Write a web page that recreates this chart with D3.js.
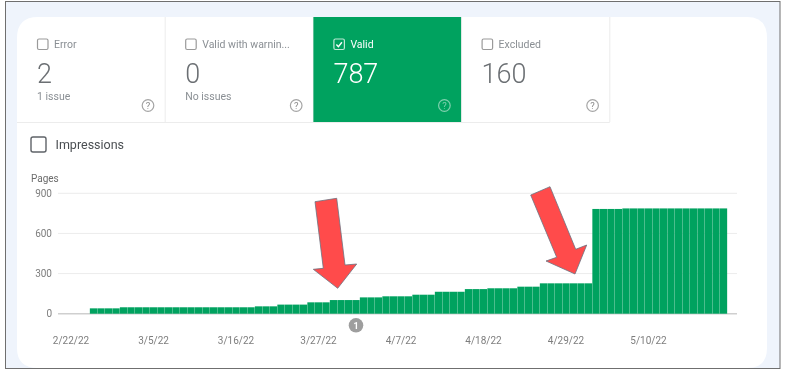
<!DOCTYPE html>
<html>

<head>
  <title>Coverage chart</title>
  <meta charset="utf-8"/>
  <script src="https://d3js.org/d3.v7.min.js"></script>

  <style>
    html, body { margin: 0; padding: 0; background: #fff; overflow: hidden; }
    /* the source is a slightly soft screenshot */
    svg { display: block; font-family: Roboto, sans-serif; filter: blur(0.3px); }
    .axis text { font-family: Roboto, sans-serif; font-size: 10px; fill: #7d7d7d; }
    .axis .domain { display: none; }
    .grid line { stroke: #ececec; stroke-width: 1; }
  </style>
</head>

<body>
  <script>
    // tabs above the chart
    var tabNames = ["Error", "Valid with warnin...", "Valid", "Excluded"];
    var tabCounts = ["2", "0", "787", "160"];
    var tabNotes = ["1 issue", "No issues", "", ""];
    var tabActive = [false, false, true, false];

    // chart data, one value per day starting at firstBar
    var firstDay = new Date(2022, 1, 21);
    var lastDay = new Date(2022, 4, 21);
    var firstBar = new Date(2022, 1, 25);
    var pages = [
      40, 40, 40, 40,
      48, 48, 48, 48, 48, 48, 48, 48, 48, 48, 48, 48, 48, 48, 48, 48, 48, 48,
      55, 55, 55,
      68, 68, 68, 68,
      85, 85, 85,
      102, 102, 102, 102,
      122, 122, 122,
      130, 130, 130, 130,
      142, 142, 142,
      164, 164, 164, 164,
      184, 184, 184,
      190, 190, 190, 190,
      202, 202, 202,
      227, 227, 227, 227, 227, 227, 227,
      783, 783, 783, 783,
      787, 787, 787, 787, 787, 787, 787, 787, 787, 787, 787, 787, 787, 787
    ];
    var yTicks = [0, 300, 600, 900];
    var xTicks = [
      new Date(2022, 1, 22), new Date(2022, 2, 5), new Date(2022, 2, 16), new Date(2022, 2, 27),
      new Date(2022, 3, 7), new Date(2022, 3, 18), new Date(2022, 3, 29), new Date(2022, 4, 10)
    ];
    var markerDate = new Date(2022, 3, 1);
    var markerLabel = "1";

    var svg = d3.select("body").append("svg").attr("width", 785).attr("height", 375);

    // page frame and card
    svg.append("rect").attr("x", 5.5).attr("y", 1.5).attr("width", 774.5).attr("height", 367)
      .attr("fill", "#eff4fc").attr("stroke", "#6f6f6f").attr("stroke-width", 1);

    svg.append("path")
      .attr("d", "M17,38 Q17,17 38,17 H747 Q767,17 767,38 V348 Q767,368 747,368 H38 Q17,368 17,348 Z")
      .attr("fill", "#fff");

    // tabs
    var tabW = 148.2;
    var tabs = svg.append("g").selectAll("g")
      .data(tabNames)
      .enter().append("g")
      .attr("transform", function(d, i) { return "translate(" + (17 + i * tabW) + ",17)"; });

    tabs.append("rect")
      .attr("width", tabW).attr("height", 105.5)
      .attr("fill", function(d, i) { return tabActive[i] ? "#00a25f" : "none"; });

    tabs.append("line")
      .attr("x1", tabW).attr("x2", tabW).attr("y1", 0).attr("y2", 105)
      .attr("stroke", "#ececec");

    tabs.append("rect")
      .attr("x", 20.5).attr("y", 22).attr("width", 10.5).attr("height", 10.5).attr("rx", 1.5)
      .attr("fill", "none")
      .attr("stroke", function(d, i) { return tabActive[i] ? "#bfe8d6" : "#9a9a9a"; })
      .attr("stroke-width", 1.2);

    tabs.filter(function(d, i) { return tabActive[i]; }).append("path")
      .attr("d", "M23,27.5 L25,29.7 L28.5,25.3")
      .attr("fill", "none").attr("stroke", "#fff").attr("stroke-width", 1.4);

    tabs.append("text")
      .attr("x", 37).attr("y", 31)
      .attr("font-size", 10.5)
      .attr("fill", function(d, i) { return tabActive[i] ? "#fff" : "#8a8f94"; })
      .text(function(d) { return d; });

    tabs.append("text")
      .attr("x", 20).attr("y", 66)
      .attr("font-size", 27)
      .attr("font-weight", 300)
      .attr("fill", function(d, i) { return tabActive[i] ? "#fff" : "#6b6f73"; })
      .text(function(d, i) { return tabCounts[i]; });

    tabs.append("text")
      .attr("x", 20).attr("y", 83)
      .attr("font-size", 10.5)
      .attr("fill", "#8a8f94")
      .text(function(d, i) { return tabNotes[i]; });

    tabs.append("circle")
      .attr("cx", 131).attr("cy", 88.5).attr("r", 5.8)
      .attr("fill", "none")
      .attr("stroke", function(d, i) { return tabActive[i] ? "#7fd0ae" : "#a5a5a5"; })
      .attr("stroke-width", 1.2);

    tabs.append("text")
      .attr("x", 131).attr("y", 92)
      .attr("text-anchor", "middle").attr("font-size", 9.5)
      .attr("fill", function(d, i) { return tabActive[i] ? "#7fd0ae" : "#8a8a8a"; })
      .text("?");

    svg.append("line").attr("x1", 17).attr("x2", 609.8).attr("y1", 122.5).attr("y2", 122.5)
      .attr("stroke", "#ececec");

    // impressions toggle
    svg.append("rect").attr("x", 31).attr("y", 137).attr("width", 15).attr("height", 15).attr("rx", 2)
      .attr("fill", "none").attr("stroke", "#5f6368").attr("stroke-width", 1.4);
    svg.append("text").attr("x", 55.5).attr("y", 149).attr("font-size", 12.5).attr("fill", "#4a4e52")
      .text("Impressions");

    svg.append("text").attr("x", 31).attr("y", 182).attr("font-size", 10).attr("fill", "#6b6b6b")
      .text("Pages");

    // scales
    var days = d3.timeDay.range(firstDay, d3.timeDay.offset(lastDay, 1));
    var x = d3.scaleBand().domain(days).range([59.75, 734.75]);
    var y = d3.scaleLinear().domain([0, 900]).range([313.7, 193.3]);
    var plotLeft = 58, plotRight = 737;

    var yAxis = d3.axisLeft(y).tickValues(yTicks).tickSize(0).tickPadding(6);
    svg.append("g")
      .attr("class", "axis")
      .attr("transform", "translate(" + plotLeft + ",0)")
      .call(yAxis);

    svg.append("g").attr("class", "grid").selectAll("line")
      .data(yTicks.slice(1))
      .enter().append("line")
      .attr("x1", plotLeft).attr("x2", plotRight)
      .attr("y1", function(d) { return y(d); })
      .attr("y2", function(d) { return y(d); });

    svg.append("line")
      .attr("x1", plotLeft).attr("x2", plotRight)
      .attr("y1", y(0)).attr("y2", y(0))
      .attr("stroke", "#cfcfcf").attr("stroke-width", 1.4);

    var xAxis = d3.axisBottom(x).tickValues(xTicks).tickSize(0).tickPadding(0)
      .tickFormat(d3.timeFormat("%-m/%-d/%y"));
    svg.append("g")
      .attr("class", "axis")
      .attr("transform", "translate(0,337)")
      .call(xAxis);

    // bars, nearly touching so only a faint seam shows
    var barDays = d3.timeDay.range(firstBar, d3.timeDay.offset(firstBar, pages.length));
    svg.append("g").selectAll("rect")
      .data(pages)
      .enter().append("rect")
      .attr("x", function(d, i) { return x(barDays[i]) + 0.1; })
      .attr("width", x.bandwidth() - 0.2)
      .attr("y", function(d) { return y(d); })
      .attr("height", function(d) { return y(0) - y(d); })
      .attr("fill", "#00a25f");

    // annotation marker under the axis
    var mx = x(markerDate) + x.bandwidth() / 2;
    svg.append("circle").attr("cx", mx).attr("cy", 325.3).attr("r", 7.3).attr("fill", "#9e9e9e");
    svg.append("text").attr("x", mx).attr("y", 328.5).attr("text-anchor", "middle")
      .attr("font-size", 9).attr("font-weight", 700).attr("fill", "#fff").text(markerLabel);

    // red arrows pasted on the screenshot
    var arrowA = [[315, 201.7], [336.7, 198.3], [345, 265], [356.7, 264], [337.7, 288.3], [313.3, 269.3], [323.3, 268.3]];
    var arrowB = [[530.7, 195], [550, 186.7], [575.7, 249.3], [586.7, 245], [575, 274], [546, 261], [556.7, 257.3]];
    svg.append("g").selectAll("polygon")
      .data([arrowA, arrowB])
      .enter().append("polygon")
      .attr("points", function(d) { return d.join(" "); })
      .attr("fill", "#ff4b4b")
      .attr("stroke", "#6b7280")
      .attr("stroke-width", 0.8);
  </script>
</body>

</html>
